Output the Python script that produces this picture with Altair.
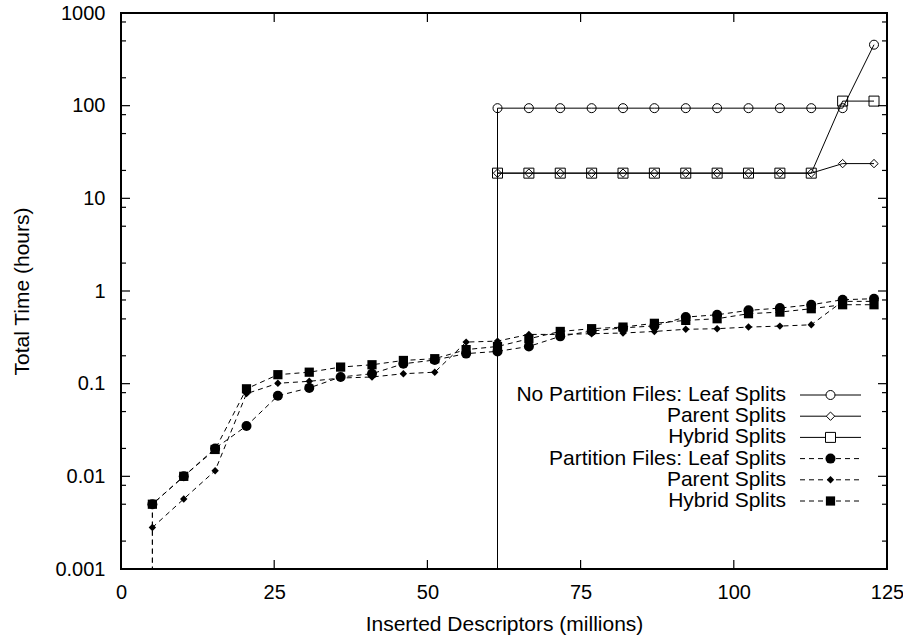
import altair as alt
import pandas as pd

# Inserted descriptors, in millions, at each insert step
inserted = [5.12, 10.24, 15.36, 20.48, 25.6, 30.72, 35.84, 40.96, 46.08, 51.2,
            56.32, 61.44, 66.56, 71.68, 76.8, 81.92, 87.04, 92.16, 97.28, 102.4,
            107.52, 112.64, 117.76, 122.88]

# Total time (hours) with partition files, all steps
pf_leaf = [0.005, 0.01, 0.02, 0.035, 0.074, 0.09, 0.118, 0.128, 0.164, 0.18,
           0.211, 0.223, 0.252, 0.324, 0.37, 0.40, 0.42, 0.523, 0.554, 0.618,
           0.654, 0.711, 0.805, 0.826]
pf_parent = [0.0028, 0.0057, 0.0115, 0.078, 0.101, 0.106, 0.115, 0.118, 0.128, 0.133,
             0.281, 0.288, 0.340, 0.34, 0.346, 0.352, 0.366, 0.386, 0.392, 0.408,
             0.418, 0.432, 0.773, 0.773]
pf_hybrid = [0.005, 0.01, 0.0195, 0.088, 0.125, 0.133, 0.151, 0.160, 0.178, 0.186,
             0.233, 0.252, 0.305, 0.366, 0.392, 0.408, 0.448, 0.482, 0.502, 0.569,
             0.592, 0.644, 0.711, 0.711]

# Total time (hours) without partition files, from step 12 on
np_x = inserted[11:]
np_leaf = [94, 94, 94, 94, 94, 94, 94, 94, 94, 94, 94, 94, 455]
np_parent = [18.7, 18.7, 18.7, 18.7, 18.7, 18.7, 18.7, 18.7, 18.7, 18.7, 18.7, 23.7, 23.7]
np_hybrid = [18.7, 18.7, 18.7, 18.7, 18.7, 18.7, 18.7, 18.7, 18.7, 18.7, 18.7, 112, 112]

# Series that rise from the axis floor at their first step
FLOOR = 1e-4

x_ticks = [0, 25, 50, 75, 100, 125]
y_major = [0.001, 0.01, 0.1, 1, 10, 100, 1000]
y_minor = [0.002, 0.005, 0.008, 0.02, 0.05, 0.08, 0.2, 0.5, 0.8,
           2, 5, 8, 20, 50, 80, 200, 500, 800]

legend_labels = ["No Partition Files: Leaf Splits", "Parent Splits", "Hybrid Splits",
                 "Partition Files: Leaf Splits", "Parent Splits", "Hybrid Splits"]

W, H = 766, 556
FONT = "Liberation Sans"
DASH = [5, 4]

xscale = alt.Scale(domain=[0, 125], nice=False, zero=False)
yscale = alt.Scale(type="log", domain=[0.001, 1000], nice=False)

xaxis = alt.Axis(values=x_ticks, ticks=False, tickSize=0, domain=False, grid=False,
                 labelFont=FONT, labelFontSize=20, labelColor="black",
                 labelBaseline="alphabetic", labelPadding=29, labelFlush=False,
                 title="Inserted Descriptors (millions)", titleFont=FONT,
                 titleFontSize=21, titleFontWeight="normal", titleColor="black",
                 titleBaseline="alphabetic", titleY=61, titleX=W / 2)
yaxis = alt.Axis(values=y_major, format="~g", ticks=False, tickSize=0, domain=False,
                 grid=False, labelFont=FONT, labelFontSize=20, labelColor="black",
                 labelPadding=16, labelFlush=False,
                 title="Total Time (hours)", titleFont=FONT, titleFontSize=21,
                 titleFontWeight="normal", titleColor="black", titleAngle=-90,
                 titleBaseline="alphabetic", titleAlign="center",
                 titleX=-93, titleY=H / 2)

X = alt.X("x:Q", scale=xscale, axis=xaxis)
Y = alt.Y("y:Q", scale=yscale, axis=yaxis)

series = [
    # label, xs, ys, shape, filled, size, dashed, rises from floor
    ("np_leaf", np_x, np_leaf, "circle", False, 81, False, True),
    ("np_parent", np_x, np_parent, "diamond", False, 70, False, False),
    ("np_hybrid", np_x, np_hybrid, "square", False, 100, False, False),
    ("pf_leaf", inserted, pf_leaf, "circle", True, 100, True, True),
    ("pf_parent", inserted, pf_parent, "diamond", True, 55, True, False),
    ("pf_hybrid", inserted, pf_hybrid, "square", True, 85, True, True),
]

layers = []
for name, xs, ys, shape, filled, size, dashed, rises in series:
    line_x = ([xs[0]] if rises else []) + list(xs)
    line_y = ([FLOOR] if rises else []) + list(ys)
    line_df = pd.DataFrame({"x": line_x, "y": line_y})
    pt_df = pd.DataFrame({"x": xs, "y": ys})
    line_kw = dict(color="black", strokeWidth=1, clip=True)
    if dashed:
        line_kw["strokeDash"] = DASH
    layers.append(alt.Chart(line_df).mark_line(**line_kw).encode(x=X, y=Y))
    layers.append(
        alt.Chart(pt_df).mark_point(shape=shape, filled=filled, size=size,
                                    color="black", strokeWidth=1, opacity=1)
        .encode(x=X, y=Y)
    )

# Inward ticks on all four sides
xt = pd.DataFrame({"x": x_ticks})
ymj = pd.DataFrame({"y": y_major})
ymn = pd.DataFrame({"y": y_minor})
tick_kw = dict(color="black", strokeWidth=1.2)
layers += [
    alt.Chart(xt).mark_rule(**tick_kw).encode(x=X, y=alt.value(H), y2=alt.value(H - 9)),
    alt.Chart(xt).mark_rule(**tick_kw).encode(x=X, y=alt.value(0), y2=alt.value(9)),
    alt.Chart(ymj).mark_rule(**tick_kw).encode(y=Y, x=alt.value(0), x2=alt.value(9)),
    alt.Chart(ymj).mark_rule(**tick_kw).encode(y=Y, x=alt.value(W), x2=alt.value(W - 9)),
    alt.Chart(ymn).mark_rule(**tick_kw).encode(y=Y, x=alt.value(0), x2=alt.value(5)),
    alt.Chart(ymn).mark_rule(**tick_kw).encode(y=Y, x=alt.value(W), x2=alt.value(W - 5)),
]

# Legend: right-aligned labels followed by a line sample with its marker
row_y0, row_step = 382, 21.2
text_right, sample_x1, sample_x2 = 665, 679, 740
for i, (label, s) in enumerate(zip(legend_labels, series)):
    _, _, _, shape, filled, size, dashed, _ = s
    ry = row_y0 + i * row_step
    one = alt.Data(values=[{"label": label}])
    layers.append(
        alt.Chart(one).mark_text(align="right", baseline="middle", font=FONT,
                                 fontSize=21, color="black")
        .encode(x=alt.value(text_right), y=alt.value(ry), text="label:N")
    )
    rule_kw = dict(color="black", strokeWidth=1)
    if dashed:
        rule_kw["strokeDash"] = DASH
    layers.append(
        alt.Chart(one).mark_rule(**rule_kw)
        .encode(x=alt.value(sample_x1), x2=alt.value(sample_x2), y=alt.value(ry))
    )
    layers.append(
        alt.Chart(one).mark_point(shape=shape, filled=filled, size=size,
                                  color="black", strokeWidth=1, opacity=1,
                                  fill="black" if filled else "white")
        .encode(x=alt.value((sample_x1 + sample_x2) / 2), y=alt.value(ry))
    )

chart = (
    alt.layer(*layers)
    .properties(width=W, height=H, background="white",
                padding={"left": 121, "top": 13, "right": 16, "bottom": 68},
                autosize=alt.AutoSizeParams(type="none"))
    .configure_view(stroke="black", strokeWidth=2)
)

chart.save("out.html", embed_options={"renderer": "svg", "actions": False})
